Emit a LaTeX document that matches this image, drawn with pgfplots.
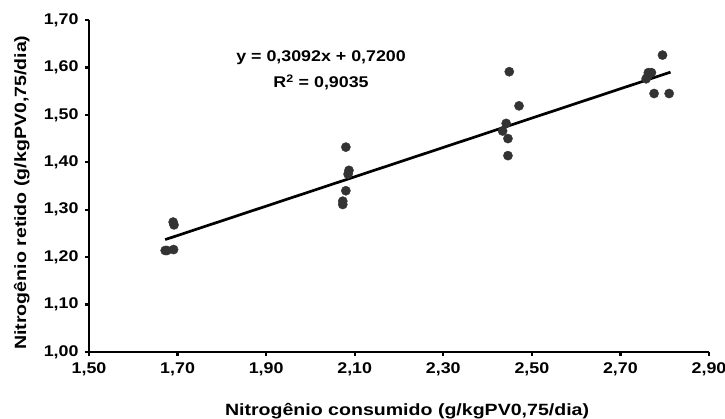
\documentclass[border=0pt]{standalone}
\usepackage{fontspec}
\setmainfont{Liberation Sans}[FakeStretch=1.15]
\newfontfamily\fb{Liberation Sans}[FakeStretch=1.15]
\newfontfamily\fc{Liberation Sans}[FakeStretch=1.2]
\usepackage{pgfplots}
\pgfplotsset{compat=1.18}
\usetikzlibrary{calc}
\definecolor{markc}{HTML}{333333}
\begin{document}
\begin{tikzpicture}
\begin{axis}[
  scale only axis, width=620pt, height=332pt,
  xmin=1.5, xmax=2.9, ymin=1.0, ymax=1.7,
  axis x line*=bottom, axis y line*=left,
  xtick={1.5,1.7,1.9,2.1,2.3,2.5,2.7,2.9},
  ytick={1.0,1.1,1.2,1.3,1.4,1.5,1.6,1.7},
  tick align=outside, major tick length=4pt,
  axis line style={line width=2.6pt, black},
  every tick/.style={line width=2.4pt, black},
  /pgf/number format/.cd, fixed, fixed zerofill, precision=2, use comma, assume math mode=true,
  /pgfplots/.cd,
  ticklabel style={font=\fb\bfseries\fontsize{15.5}{15.5}\selectfont},
  xticklabel style={yshift=-3pt},
  yticklabel style={xshift=-3pt},
  xlabel={Nitrogênio consumido (g/kgPV0,75/dia)},
  ylabel={Nitrogênio retido (g/kgPV0,75/dia)},
  label style={font=\fc\bfseries\fontsize{16.3}{16.3}\selectfont},
  xlabel style={at={(axis description cs:0.513,-0.1898)}, anchor=base},
  ylabel style={at={(axis description cs:-0.1016,0.48)}, anchor=base},
  clip=false,
]
\addplot[only marks, mark=*, mark size=4.6pt, markc, mark options={fill=markc, draw=markc}] table {
x y
1.672 1.214
1.676 1.214
1.691 1.216
1.690 1.274
1.692 1.268
2.080 1.432
2.087 1.383
2.085 1.375
2.080 1.340
2.073 1.318
2.073 1.311
2.449 1.591
2.471 1.519
2.442 1.482
2.434 1.466
2.446 1.450
2.446 1.414
2.795 1.626
2.763 1.589
2.770 1.589
2.758 1.576
2.762 1.582
2.776 1.545
2.810 1.545
};
\addplot[black, line width=2.7pt] coordinates {(1.672,1.237) (2.813,1.590)};
\node[font=\bfseries\fontsize{15.5}{15.5}\selectfont, anchor=base] at (axis cs:2.024,1.612) {y = 0,3092x + 0,7200};
\node[font=\bfseries\fontsize{15.5}{15.5}\selectfont, anchor=base] at (axis cs:2.024,1.558) {R\textsuperscript{2} = 0,9035};
\end{axis}
\pgfresetboundingbox
\path[use as bounding box] ($(current axis.south west)+(-89pt,-67pt)$) rectangle ($(current axis.north east)+(16pt,20pt)$);
\end{tikzpicture}
\end{document}
